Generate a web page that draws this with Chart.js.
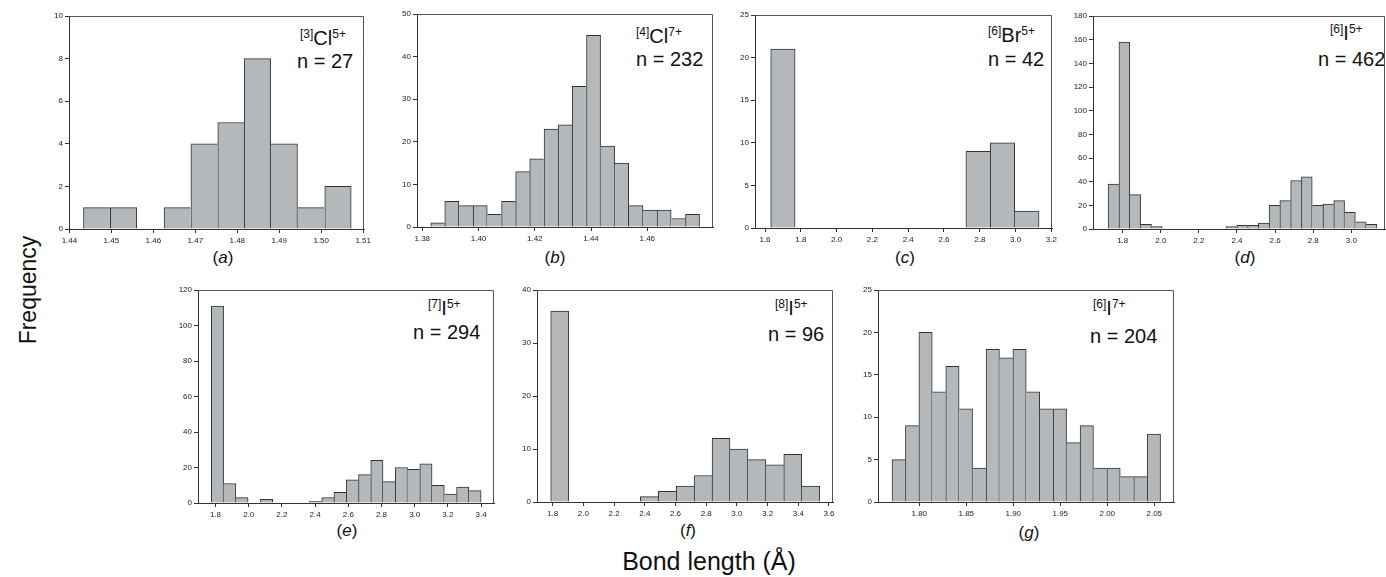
<!DOCTYPE html>
<html>
<head>
<meta charset="utf-8">
<script src="https://cdn.jsdelivr.net/npm/chart.js@4.4.1/dist/chart.umd.min.js"></script>
<style>
  html, body { margin: 0; padding: 0; background: #fff; overflow: hidden; }
  #fig { position: relative; width: 1386px; height: 577px; overflow: hidden;
         font-family: "Liberation Sans", Arial, sans-serif; color: #111; }
  #fig canvas { position: absolute; }
  .txt { position: absolute; white-space: nowrap; line-height: 1; }
  .el { font-size: 20px; }
  .el sup { font-size: 12px; vertical-align: 7px; line-height: 0; }
  .n { font-size: 20px; }
  .tag { font-size: 17px; transform: translateX(-50%); }
  #ylab { font-size: 23px; left: 28px; top: 290px; transform: translate(-50%, -50%) rotate(-90deg); }
  #xlab { font-size: 25px; left: 709px; top: 549px; transform: translateX(-50%); }
</style>
</head>
<body>
<div id="fig">
  <div class="txt el" style="left:300px;top:28px"><sup>[3]</sup>Cl<sup>5+</sup></div>
  <div class="txt n" style="left:297px;top:51px">n = 27</div>
  <div class="txt el" style="left:636px;top:26px"><sup>[4]</sup>Cl<sup>7+</sup></div>
  <div class="txt n" style="left:636px;top:49px">n = 232</div>
  <div class="txt el" style="left:988px;top:25px"><sup>[6]</sup>Br<sup>5+</sup></div>
  <div class="txt n" style="left:988px;top:49px">n = 42</div>
  <div class="txt el" style="left:1330px;top:23px"><sup>[6]</sup>I<sup>5+</sup></div>
  <div class="txt n" style="left:1318px;top:49px">n = 462</div>
  <div class="txt el" style="left:428px;top:298px"><sup>[7]</sup>I<sup>5+</sup></div>
  <div class="txt n" style="left:413px;top:322px">n = 294</div>
  <div class="txt el" style="left:775px;top:298px"><sup>[8]</sup>I<sup>5+</sup></div>
  <div class="txt n" style="left:768px;top:324px">n = 96</div>
  <div class="txt el" style="left:1093px;top:298px"><sup>[6]</sup>I<sup>7+</sup></div>
  <div class="txt n" style="left:1090px;top:326px">n = 204</div>

  <div class="txt tag" style="left:223px;top:249px">(<i>a</i>)</div>
  <div class="txt tag" style="left:555px;top:249px">(<i>b</i>)</div>
  <div class="txt tag" style="left:905px;top:249px">(<i>c</i>)</div>
  <div class="txt tag" style="left:1245px;top:249px">(<i>d</i>)</div>
  <div class="txt tag" style="left:347px;top:522px">(<i>e</i>)</div>
  <div class="txt tag" style="left:688px;top:522px">(<i>f</i>)</div>
  <div class="txt tag" style="left:1029px;top:524px">(<i>g</i>)</div>

  <div class="txt" id="ylab">Frequency</div>
  <div class="txt" id="xlab">Bond length (Å)</div>
</div>

<script>
// (a) [3]Cl5+
const aBins = [1.4465, 1.4529, 1.4593, 1.4657, 1.4721, 1.4785, 1.4848, 1.4912, 1.4976, 1.5040];
const aCounts = [1, 1, 0, 1, 4, 5, 8, 4, 1, 2];
const aXTicks = ["1.44", "1.45", "1.46", "1.47", "1.48", "1.49", "1.50", "1.51"];
const aYTicks = [0, 2, 4, 6, 8, 10];

// (b) [4]Cl7+
const bBins = [1.3855, 1.3905, 1.3956, 1.4006, 1.4056, 1.4107, 1.4157, 1.4207, 1.4258, 1.4308,
               1.4358, 1.4409, 1.4459, 1.4509, 1.4560, 1.4610, 1.4660, 1.4711, 1.4761];
const bCounts = [1, 6, 5, 5, 3, 6, 13, 16, 23, 24, 33, 45, 19, 15, 5, 4, 4, 2, 3];
const bXTicks = ["1.38", "1.40", "1.42", "1.44", "1.46"];
const bYTicks = [0, 10, 20, 30, 40, 50];

// (c) [6]Br5+
const cBins = [1.7000, 1.8363, 1.9726, 2.1089, 2.2452, 2.3815, 2.5178, 2.6541, 2.7904, 2.9267, 3.0630];
const cCounts = [21, 0, 0, 0, 0, 0, 0, 0, 9, 10, 2];
const cXTicks = ["1.6", "1.8", "2.0", "2.2", "2.4", "2.6", "2.8", "3.0", "3.2"];
const cYTicks = [0, 5, 10, 15, 20, 25];

// (d) [6]I5+
const dBins = [1.7515, 1.8086, 1.8657, 1.9228, 1.9799,
               2.3703, 2.4269, 2.4835, 2.5401, 2.5967, 2.6533, 2.7099, 2.7665, 2.8231,
               2.8797, 2.9363, 2.9929, 3.0495, 3.1061];
const dCounts = [38, 158, 29, 4, 2,
                 2, 3, 3, 5, 20, 24, 41, 44, 20, 21, 24, 14, 6, 4];
const dXTicks = ["1.8", "2.0", "2.2", "2.4", "2.6", "2.8", "3.0"];
const dYTicks = [0, 20, 40, 60, 80, 100, 120, 140, 160, 180];

// (e) [7]I5+
const eBins = [1.8119, 1.8858, 1.9597, 2.0335, 2.1074, 2.1812, 2.2551, 2.3290, 2.4028, 2.4767, 2.5505,
               2.6244, 2.6983, 2.7721, 2.8460, 2.9198, 2.9937, 3.0676, 3.1414, 3.2153, 3.2891, 3.3630];
const eCounts = [111, 11, 3, 0, 2, 0, 0, 0, 1, 3, 6, 13, 16, 24, 12, 20, 19, 22, 10, 5, 9, 7];
const eXTicks = ["1.8", "2.0", "2.2", "2.4", "2.6", "2.8", "3.0", "3.2", "3.4"];
const eYTicks = [0, 20, 40, 60, 80, 100, 120];

// (f) [8]I5+
const fBins = [1.8454, 1.9622, 2.0790, 2.1958, 2.3126, 2.4294, 2.5462, 2.6630, 2.7798, 2.8966,
               3.0134, 3.1302, 3.2470, 3.3638, 3.4806];
const fCounts = [36, 0, 0, 0, 0, 1, 2, 3, 5, 12, 10, 8, 7, 9, 3];
const fXTicks = ["1.8", "2.0", "2.2", "2.4", "2.6", "2.8", "3.0", "3.2", "3.4", "3.6"];
const fYTicks = [0, 10, 20, 30, 40];

// (g) [6]I7+
const gBins = [1.7781, 1.7924, 1.8067, 1.8210, 1.8353, 1.8496, 1.8639, 1.8782, 1.8924, 1.9067,
               1.9210, 1.9353, 1.9496, 1.9639, 1.9782, 1.9924, 2.0067, 2.0210, 2.0353, 2.0496];
const gCounts = [5, 9, 20, 13, 16, 11, 4, 18, 17, 18, 13, 11, 11, 7, 9, 4, 4, 3, 3, 8];
const gXTicks = ["1.80", "1.85", "1.90", "1.95", "2.00", "2.05"];
const gYTicks = [0, 5, 10, 15, 20, 25];

Chart.defaults.font.family = '"Liberation Sans", Arial, sans-serif';
Chart.defaults.color = '#222';

const AXIS_W = 40, AXIS_H = 24, PAD_T = 12, PAD_R = 16;

const frame = {
  id: 'frame',
  afterDatasetsDraw(chart) {
    const { ctx, chartArea: a } = chart;
    ctx.save();
    ctx.strokeStyle = '#555';
    ctx.lineWidth = 1;
    ctx.beginPath();
    ctx.moveTo(a.left, a.top + 0.5);
    ctx.lineTo(a.right - 0.5, a.top + 0.5);
    ctx.lineTo(a.right - 0.5, a.bottom);
    ctx.stroke();
    ctx.restore();
  }
};

function histogram(box, xRange, bins, counts, xTicks, yTicks) {
  const canvas = document.createElement('canvas');
  const w = box.r - box.l + AXIS_W + PAD_R;
  const h = box.b - box.t + PAD_T + AXIS_H;
  canvas.width = w;
  canvas.height = h;
  canvas.style.left = (box.l - AXIS_W) + 'px';
  canvas.style.top = (box.t - PAD_T) + 'px';
  canvas.style.width = w + 'px';
  canvas.style.height = h + 'px';
  document.getElementById('fig').appendChild(canvas);

  let step = Infinity;
  for (let i = 1; i < bins.length; i++) step = Math.min(step, bins[i] - bins[i - 1]);

  const data = bins.map((x, i) => ({ x: x, y: counts[i] > 0 ? counts[i] : null }));

  // one dark line per shared edge between touching bars
  function edges(ctx) {
    const d = ctx.dataset.data, i = ctx.dataIndex;
    const hgt = d[i].y || 0;
    const prev = (i > 0 && d[i].x - d[i - 1].x < step * 1.3) ? (d[i - 1].y || 0) : 0;
    const next = (i < d.length - 1 && d[i + 1].x - d[i].x < step * 1.3) ? (d[i + 1].y || 0) : 0;
    return { top: 1, bottom: 0, left: prev <= hgt ? 1 : 0, right: next < hgt ? 1 : 0 };
  }

  const grid = { display: true, drawOnChartArea: false, drawTicks: true, tickLength: 4, color: '#333' };
  const border = { display: true, color: '#333', width: 1 };

  new Chart(canvas, {
    type: 'bar',
    data: {
      datasets: [{
        data: data,
        backgroundColor: '#b4b8bb',
        borderColor: '#333',
        borderWidth: edges,
        borderSkipped: 'start',
        categoryPercentage: 1.0,
        barPercentage: 1.0
      }]
    },
    options: {
      responsive: false,
      animation: false,
      layout: { padding: { left: 0, top: PAD_T, right: PAD_R, bottom: 0 } },
      plugins: { legend: { display: false }, tooltip: { enabled: false } },
      scales: {
        x: {
          type: 'linear',
          offset: false,
          min: xRange[0],
          max: xRange[1],
          grid: Object.assign({ offset: false }, grid),
          border: border,
          afterBuildTicks: (axis) => { axis.ticks = xTicks.map(t => ({ value: parseFloat(t) })); },
          afterFit: (axis) => { axis.height = AXIS_H; },
          ticks: {
            autoSkip: false, maxRotation: 0, padding: 3,
            font: { size: 8 },
            callback: (v, i) => xTicks[i]
          }
        },
        y: {
          min: 0,
          max: yTicks[yTicks.length - 1],
          grid: grid,
          border: border,
          afterBuildTicks: (axis) => { axis.ticks = yTicks.map(t => ({ value: t })); },
          afterFit: (axis) => { axis.width = AXIS_W; },
          ticks: { padding: 2, font: { size: 8 } }
        }
      }
    },
    plugins: [frame]
  });
}

histogram({ l: 69, t: 16, r: 364, b: 229 }, [1.4399, 1.5102], aBins, aCounts, aXTicks, aYTicks);
histogram({ l: 417, t: 14, r: 713, b: 227 }, [1.37812, 1.48338], bBins, bCounts, bXTicks, bYTicks);
histogram({ l: 755, t: 15, r: 1052, b: 228 }, [1.5441, 3.2034], cBins, cCounts, cXTicks, cYTicks);
histogram({ l: 1093, t: 16, r: 1385, b: 229 }, [1.6441, 3.1769], dBins, dCounts, dXTicks, dYTicks);
histogram({ l: 198, t: 290, r: 494, b: 503 }, [1.6946, 3.4777], eBins, eCounts, eXTicks, eYTicks);
histogram({ l: 537, t: 290, r: 833, b: 502 }, [1.6977, 3.6261], fBins, fCounts, fXTicks, fYTicks);
histogram({ l: 878, t: 290, r: 1174, b: 502 }, [1.7561, 2.0710], gBins, gCounts, gXTicks, gYTicks);
</script>
</body>
</html>
